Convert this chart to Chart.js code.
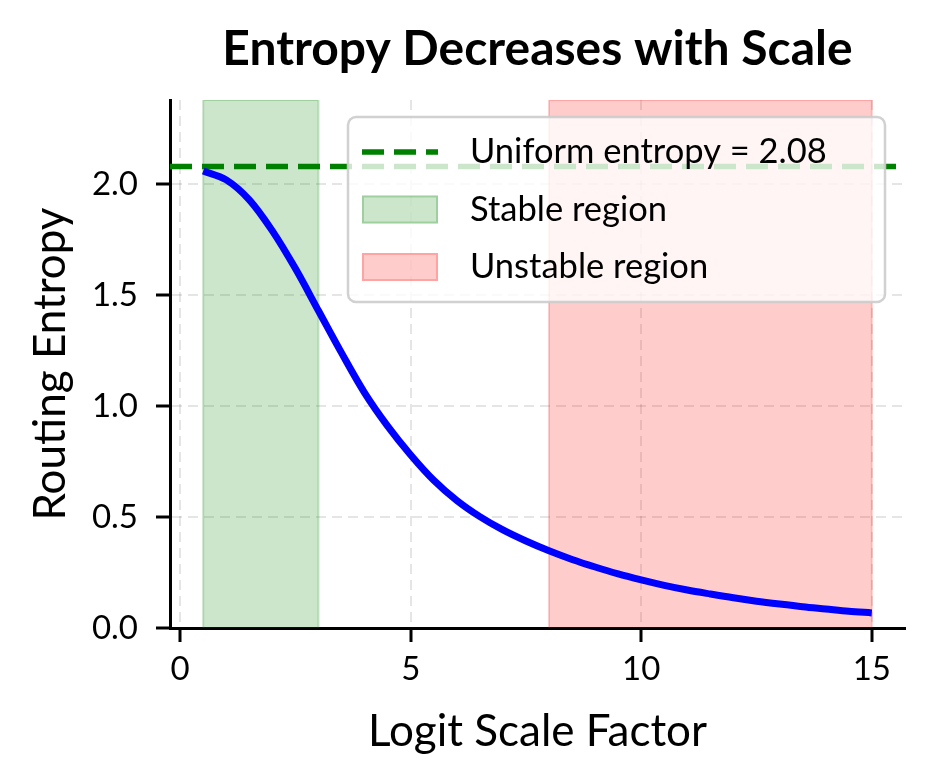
<!DOCTYPE html>
<html>
<head>
<meta charset="utf-8">
<script src="https://cdn.jsdelivr.net/npm/chart.js@4.4.1/dist/chart.umd.min.js"></script>
<style>
  html, body { margin: 0; padding: 0; background: #fff; }
  #wrap { width: 934px; height: 784px; }
</style>
</head>
<body>
<div id="wrap"><canvas id="entropyChart" width="934" height="784"></canvas></div>
<script>
// Routing entropy vs logit scale factor

const scaleFactors = [0.5, 1.0, 1.5, 2.0, 2.5, 3.0, 3.5, 4.0, 4.5, 5.0,
                      5.5, 6.0, 6.5, 7.0, 7.5, 8.0, 8.5, 9.0, 9.5, 10.0,
                      10.5, 11.0, 11.5, 12.0, 12.5, 13.0, 13.5, 14.0, 14.5, 15.0];
const entropyValues = [2.06, 2.02, 1.93, 1.79, 1.62, 1.43, 1.24, 1.06, 0.91, 0.78,
                       0.666, 0.575, 0.502, 0.442, 0.392, 0.348, 0.309, 0.275, 0.244, 0.217,
                       0.192, 0.171, 0.153, 0.136, 0.121, 0.108, 0.096, 0.086, 0.076, 0.068];
const uniformEntropy = 2.08;
const stableRegion = [0.5, 3];
const unstableRegion = [8, 15];
const xTicks = [0, 5, 10, 15];
const yTicks = [0, 0.5, 1.0, 1.5, 2.0];
const xRange = [-0.22, 15.72];
const yRange = [0, 2.38];

const FONT = 'Lato, "Noto Sans", sans-serif';

function band(range) {
    return [
        { x: range[0], y: yRange[0] },
        { x: range[0], y: yRange[1] },
        { x: range[1], y: yRange[1] },
        { x: range[1], y: yRange[0] }
    ];
}

// legend box drawn inside the plot, like matplotlib's "upper right"
const insideLegend = {
    id: 'insideLegend',
    afterDatasetsDraw(chart) {
        const ctx = chart.ctx;
        const area = chart.chartArea;
        const sets = chart.data.datasets.filter(d => d.showInLegend);
        const w = 537, h = 185;
        const x0 = area.right - 20 - w;
        const y0 = area.top + 17;
        ctx.save();
        ctx.beginPath();
        ctx.roundRect(x0, y0, w, h, 8);
        ctx.fillStyle = 'rgba(255,255,255,0.8)';
        ctx.fill();
        ctx.strokeStyle = 'rgba(204,204,204,0.9)';
        ctx.lineWidth = 2.5;
        ctx.stroke();

        ctx.font = '34.5px ' + FONT;
        ctx.textBaseline = 'middle';
        sets.forEach((ds, i) => {
            const cy = y0 + 35 + i * 57.5;
            const sx = x0 + 14;
            if (ds.legendKind === 'line') {
                ctx.beginPath();
                ctx.setLineDash(ds.borderDash);
                ctx.strokeStyle = ds.borderColor;
                ctx.lineWidth = ds.borderWidth;
                ctx.moveTo(sx, cy);
                ctx.lineTo(sx + 76, cy);
                ctx.stroke();
                ctx.setLineDash([]);
            } else {
                ctx.fillStyle = ds.backgroundColor;
                ctx.fillRect(sx, cy - 14, 76, 28);
                ctx.strokeStyle = ds.borderColor;
                ctx.lineWidth = 2;
                ctx.strokeRect(sx + 1, cy - 13, 74, 26);
            }
            ctx.fillStyle = '#000';
            ctx.fillText(ds.label, x0 + 122, cy);
        });
        ctx.restore();
    }
};

const ctx = document.getElementById('entropyChart').getContext('2d');

new Chart(ctx, {
    type: 'line',
    data: {
        datasets: [
            {
                label: 'Routing entropy',
                data: scaleFactors.map((s, i) => ({ x: s, y: entropyValues[i] })),
                borderColor: '#0000ff',
                borderWidth: 7,
                pointRadius: 0,
                cubicInterpolationMode: 'monotone',
                fill: false,
                order: 0
            },
            {
                label: 'Uniform entropy = ' + uniformEntropy.toFixed(2),
                data: [{ x: xRange[0], y: uniformEntropy }, { x: xRange[1], y: uniformEntropy }],
                borderColor: '#008000',
                borderWidth: 5.5,
                borderDash: [22, 10],
                pointRadius: 0,
                fill: false,
                order: 1,
                showInLegend: true,
                legendKind: 'line'
            },
            {
                label: 'Stable region',
                data: band(stableRegion),
                borderColor: 'rgba(0,128,0,0.22)',
                backgroundColor: 'rgba(0,128,0,0.2)',
                borderWidth: 2,
                pointRadius: 0,
                tension: 0,
                fill: 'origin',
                order: 2,
                showInLegend: true,
                legendKind: 'patch'
            },
            {
                label: 'Unstable region',
                data: band(unstableRegion),
                borderColor: 'rgba(255,0,0,0.2)',
                backgroundColor: 'rgba(255,0,0,0.2)',
                borderWidth: 2,
                pointRadius: 0,
                tension: 0,
                fill: 'origin',
                order: 3,
                showInLegend: true,
                legendKind: 'patch'
            }
        ]
    },
    options: {
        responsive: false,
        animation: false,
        devicePixelRatio: 1,
        layout: { padding: { top: 0, right: 29, bottom: 0, left: 0 } },
        scales: {
            x: {
                type: 'linear',
                min: xRange[0],
                max: xRange[1],
                afterBuildTicks: axis => { axis.ticks = xTicks.map(v => ({ value: v })); },
                afterFit: axis => { axis.height = 156; },
                ticks: {
                    color: '#000',
                    font: { family: FONT, size: 33 },
                    padding: 8,
                    maxRotation: 0,
                    callback: v => String(v)
                },
                grid: {
                    color: 'rgba(0,0,0,0.1)',
                    lineWidth: 2,
                    tickColor: '#000',
                    tickLength: 14,
                    tickWidth: 3
                },
                border: { display: true, color: '#000', width: 3, dash: [10, 6] },
                title: {
                    display: true,
                    text: 'Logit Scale Factor',
                    color: '#000',
                    font: { family: FONT, size: 44 },
                    padding: { top: 0, bottom: 26 }
                }
            },
            y: {
                type: 'linear',
                min: yRange[0],
                max: yRange[1],
                afterBuildTicks: axis => { axis.ticks = yTicks.map(v => ({ value: v })); },
                afterFit: axis => { axis.width = 170; },
                ticks: {
                    color: '#000',
                    font: { family: FONT, size: 33 },
                    padding: 18,
                    callback: v => v.toFixed(1)
                },
                grid: {
                    color: 'rgba(0,0,0,0.1)',
                    lineWidth: 2,
                    tickColor: '#000',
                    tickLength: 14,
                    tickWidth: 3
                },
                border: { display: true, color: '#000', width: 3, dash: [10, 6] },
                title: {
                    display: true,
                    text: 'Routing Entropy',
                    color: '#000',
                    font: { family: FONT, size: 44 },
                    padding: { top: 24, bottom: 0 }
                }
            }
        },
        plugins: {
            legend: { display: false },
            tooltip: { enabled: false },
            title: {
                display: true,
                fullSize: false,
                text: 'Entropy Decreases with Scale',
                color: '#000',
                font: { family: FONT, size: 48, weight: 'bold' },
                padding: { top: 21, bottom: 21.4 }
            }
        }
    },
    plugins: [insideLegend]
});
</script>
</body>
</html>
